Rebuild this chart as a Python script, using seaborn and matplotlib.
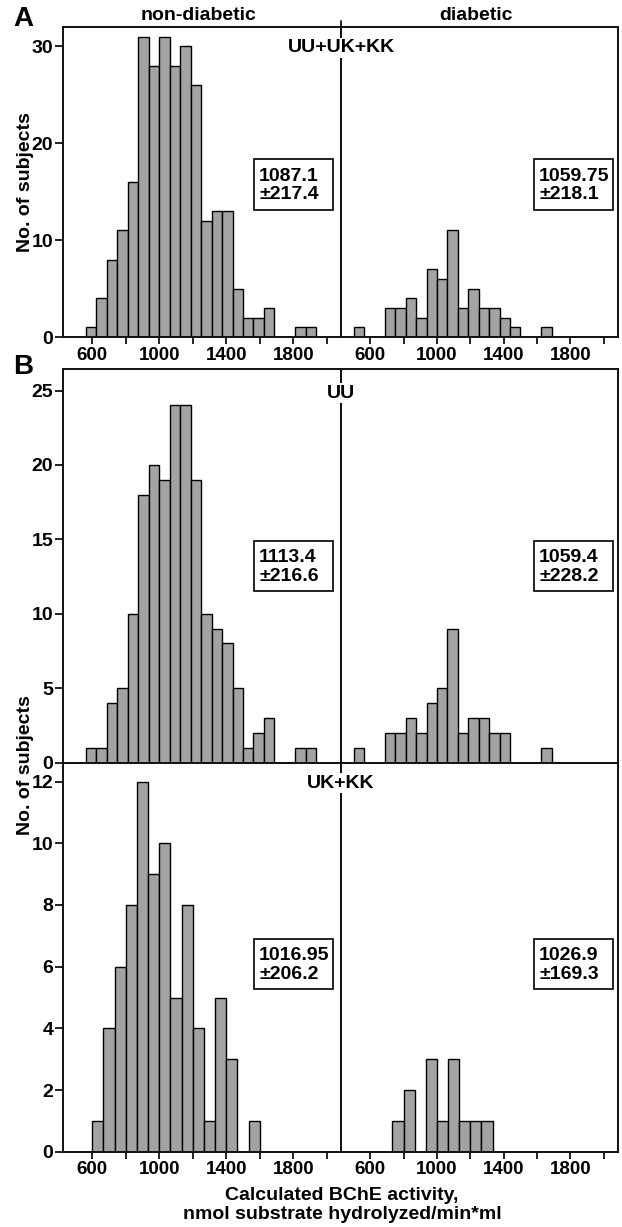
import numpy as np
import pandas as pd
import seaborn as sns
import matplotlib.pyplot as plt
from matplotlib.patches import Rectangle
from matplotlib.lines import Line2D

sns.set_style('ticks')
plt.rcParams['font.family'] = ['Liberation Sans', 'DejaVu Sans']
plt.rcParams['font.weight'] = 'bold'
plt.rcParams['text.color'] = 'black'
plt.rcParams['xtick.color'] = '#111111'
plt.rcParams['ytick.color'] = '#111111'

# bin starts (nmol/min*ml) and counts
w_a = 62.5
nondiab_starts = [562.5, 625, 687.5, 750, 812.5, 875, 937.5, 1000, 1062.5, 1125, 1187.5,
                  1250, 1312.5, 1375, 1437.5, 1500, 1562.5, 1625, 1687.5, 1750, 1812.5, 1875]
all_nondiab = [1, 4, 8, 11, 16, 31, 28, 31, 28, 30, 26, 12, 13, 13, 5, 2, 2, 3, 0, 0, 1, 1]
uu_nondiab = [1, 1, 4, 5, 10, 18, 20, 19, 24, 24, 19, 10, 9, 8, 5, 1, 2, 3, 0, 0, 1, 1]

diab_starts = [500, 562.5, 625, 687.5, 750, 812.5, 875, 937.5, 1000, 1062.5, 1125,
               1187.5, 1250, 1312.5, 1375, 1437.5, 1500, 1562.5, 1625]
all_diab = [1, 0, 0, 3, 3, 4, 2, 7, 6, 11, 3, 5, 3, 3, 2, 1, 0, 0, 1]
uu_diab = [1, 0, 0, 2, 2, 3, 2, 4, 5, 9, 2, 3, 3, 2, 2, 0, 0, 0, 1]

w_k = 200 / 3
kk_nondiab_starts = [600, 666.7, 733.3, 800, 866.7, 933.3, 1000, 1066.7, 1133.3, 1200,
                     1266.7, 1333.3, 1400, 1466.7, 1533.3]
kk_nondiab = [1, 4, 6, 8, 12, 9, 10, 5, 8, 4, 1, 5, 3, 0, 1]
kk_diab_starts = [733.3, 800, 866.7, 933.3, 1000, 1066.7, 1133.3, 1200, 1266.7]
kk_diab = [1, 2, 0, 3, 1, 3, 1, 1, 1]

stats = {
    'A': ['1087.1\n±217.4', '1059.75\n±218.1'],
    'UU': ['1113.4\n±216.6', '1059.4\n±228.2'],
    'KK': ['1016.95\n±206.2', '1026.9\n±169.3'],
}

W, H = 622, 1227
fig = plt.figure(figsize=(W / 100, H / 100), dpi=100)


def px_box(x0, y0, x1, y1):
    return [x0 / W, 1 - y1 / H, (x1 - x0) / W, (y1 - y0) / H]


def fx(x):
    return x / W


def fy(y):
    return 1 - y / H


def draw_hist(ax, starts, counts, width):
    edges = [float(s) for s in starts] + [float(starts[-1]) + width]
    df = pd.DataFrame({'bche': [float(s) + width / 2 for s in starts], 'n': counts})
    sns.histplot(data=df, x='bche', weights='n', bins=edges, ax=ax,
                 color='#a3a3a3', edgecolor='black', linewidth=1.0, alpha=1)
    ax.set_xlabel('')
    ax.set_ylabel('')


def style(ax, ylim, yticks, left, bottom):
    ax.set_xlim(425, 2085)
    ax.set_ylim(*ylim)
    ax.set_xticks(range(600, 2001, 200))
    ax.set_xticklabels(['600', '', '1000', '', '1400', '', '1800', ''])
    ax.set_yticks(yticks)
    for s in ax.spines.values():
        s.set_visible(True)
        s.set_linewidth(1.4)
        s.set_color('#111111')
    ax.tick_params(axis='x', direction='out', length=5, width=1.3, pad=2,
                   labelsize=13.5, bottom=bottom, labelbottom=bottom)
    ax.tick_params(axis='y', direction='out', length=6, width=1.3, pad=1,
                   labelsize=14, left=left, labelleft=left)
    for lab in ax.get_xticklabels() + ax.get_yticklabels():
        lab.set_fontweight('bold')
        lab.set_color('black')


panels = [
    ((27, 337), nondiab_starts, all_nondiab, diab_starts, all_diab, w_a, (0, 32), [0, 10, 20, 30], True),
    ((369, 762.5), nondiab_starts, uu_nondiab, diab_starts, uu_diab, w_a, (0, 26.45), [0, 5, 10, 15, 20, 25], False),
    ((762.5, 1151.7), kk_nondiab_starts, kk_nondiab, kk_diab_starts, kk_diab, w_k, (0, 12.62), [0, 2, 4, 6, 8, 10, 12], True),
]

for (y0, y1), s_nd, c_nd, s_d, c_d, w, ylim, yt, xt in panels:
    axl = fig.add_axes(px_box(63, y0, 341, y1))
    axr = fig.add_axes(px_box(341, y0, 618, y1))
    draw_hist(axl, s_nd, c_nd, w)
    draw_hist(axr, s_d, c_d, w)
    style(axl, ylim, yt, True, xt)
    style(axr, ylim, yt, False, xt)

# stat boxes
box_rows = [('A', 159, 210), ('UU', 540.5, 591), ('KK', 939.3, 989.3)]
for key, by0, by1 in box_rows:
    for (bx0, bx1), txt in zip([(254, 333), (534, 613)], stats[key]):
        fig.patches.append(Rectangle((fx(bx0), fy(by1)), (bx1 - bx0) / W, (by1 - by0) / H,
                                     transform=fig.transFigure, fill=True, facecolor='white',
                                     edgecolor='#111111', linewidth=1.3, zorder=5))
        fig.text(fx(bx0 + 5), fy((by0 + by1) / 2 + 1), txt, ha='left', va='center',
                 fontsize=14, fontweight='bold', linespacing=1.15, zorder=6)

# group labels on the divider
white = dict(boxstyle='square,pad=0.1', facecolor='white', edgecolor='none')
fig.text(fx(341), fy(48), 'UU+UK+KK', ha='center', va='center', fontsize=14,
         fontweight='bold', bbox=white, zorder=6)
fig.text(fx(341), fy(393), 'UU', ha='center', va='center', fontsize=14,
         fontweight='bold', bbox=white, zorder=6)
fig.text(fx(341), fy(783), 'UK+KK', ha='center', va='center', fontsize=14,
         fontweight='bold', bbox=white, zorder=6)

# small tick above divider in panel A
fig.lines.append(Line2D([fx(341), fx(341)], [fy(27), fy(21)], transform=fig.transFigure,
                        color='#111111', linewidth=1.3))

# titles and labels
fig.text(fx(23), fy(19), 'A', ha='center', va='center', fontsize=20, fontweight='bold')
fig.text(fx(23), fy(367), 'B', ha='center', va='center', fontsize=20, fontweight='bold')
fig.text(fx(199), fy(16), 'non-diabetic', ha='center', va='center', fontsize=14, fontweight='bold')
fig.text(fx(476), fy(16), 'diabetic', ha='center', va='center', fontsize=14, fontweight='bold')
fig.text(fx(25), fy(182), 'No. of subjects', ha='center', va='center', rotation=90,
         fontsize=14, fontweight='bold')
fig.text(fx(25), fy(765), 'No. of subjects', ha='center', va='center', rotation=90,
         fontsize=14, fontweight='bold')
fig.text(fx(342), fy(1205), 'Calculated BChE activity,\nnmol substrate hydrolyzed/min*ml',
         ha='center', va='center', fontsize=14, fontweight='bold', linespacing=1.2)

fig.savefig('out.png', dpi=100)
